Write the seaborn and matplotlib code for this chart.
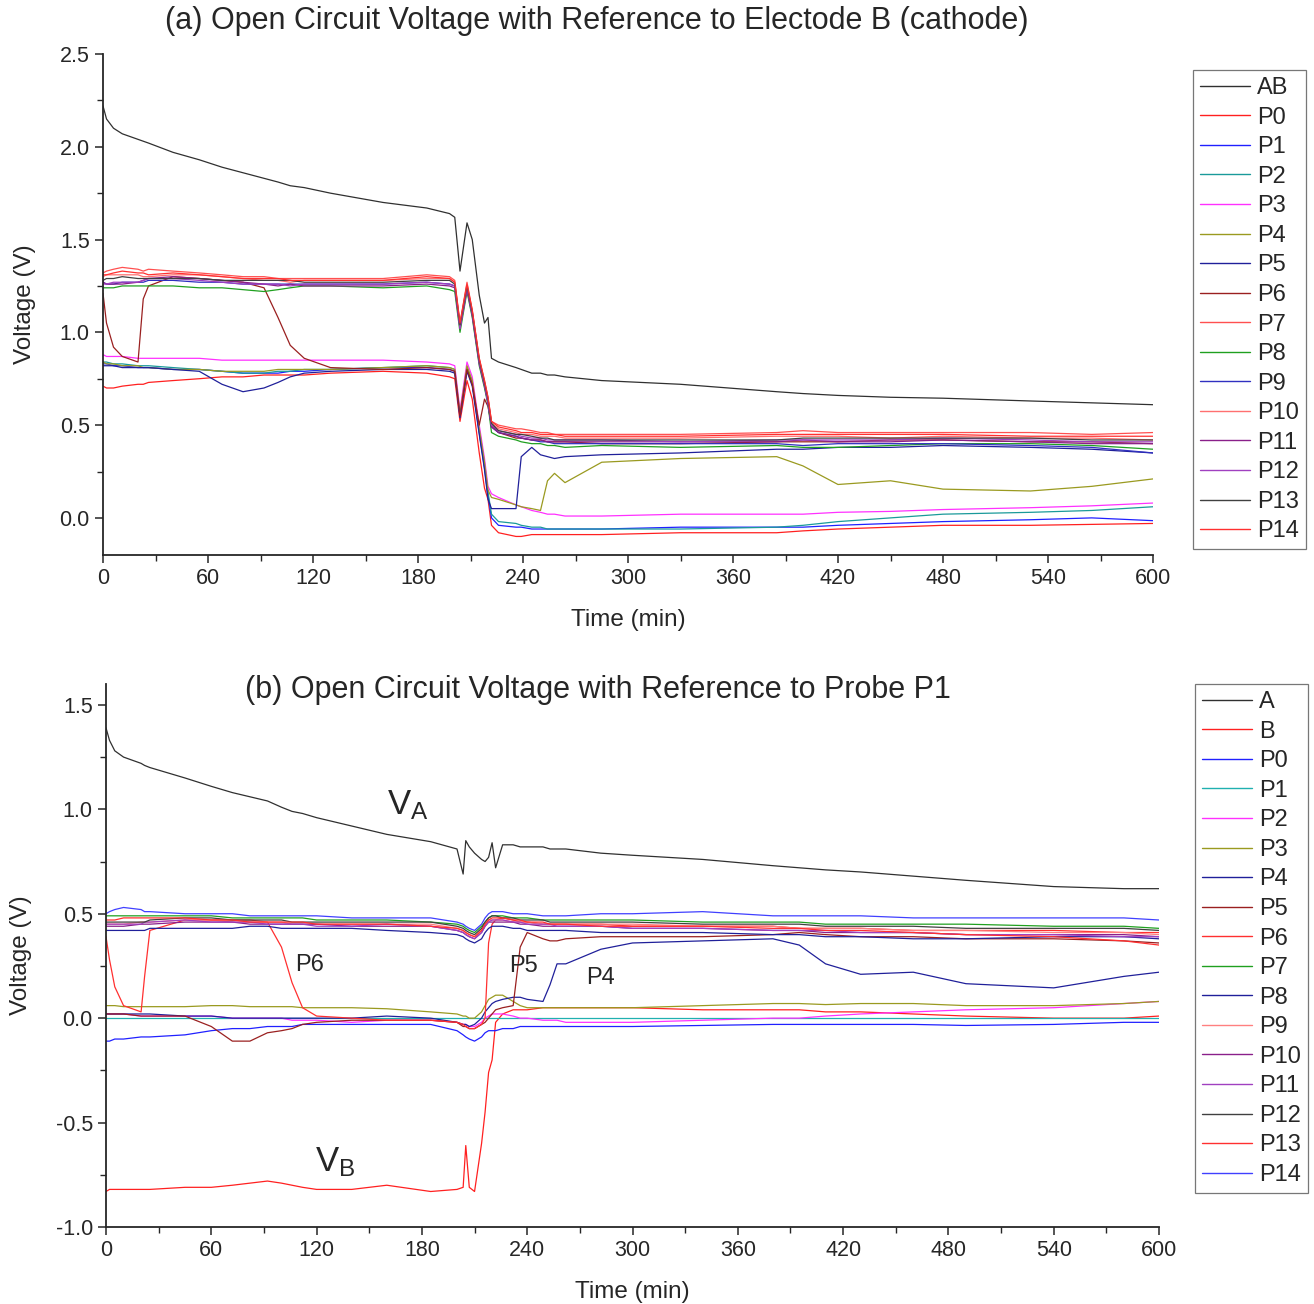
import numpy as np
import pandas as pd
import matplotlib
matplotlib.use("Agg")
import matplotlib.pyplot as plt
import seaborn as sns
from matplotlib.ticker import MultipleLocator

# ---------------- panel (a): reference to electrode B ----------------
TIME_A = [0, 2, 6, 11, 20, 23, 26, 40, 55, 68, 80, 92, 100, 107, 115,
          130, 160, 185, 198, 201, 204, 208, 211, 215, 218, 220, 222, 226, 236, 239,
          245, 250, 254, 258, 264, 285, 330, 385, 400, 420, 450, 480, 530, 565, 600]

A_AB = [2.22, 2.15, 2.10, 2.07, 2.04, 2.03, 2.02, 1.97, 1.93, 1.89, 1.86, 1.83, 1.81, 1.79, 1.78,
        1.75, 1.70, 1.67, 1.64, 1.62, 1.33, 1.59, 1.50, 1.20, 1.05, 1.08, 0.86, 0.84, 0.81, 0.80,
        0.78, 0.78, 0.77, 0.77, 0.76, 0.74, 0.72, 0.68, 0.67, 0.66, 0.65, 0.645, 0.63, 0.62, 0.61]
A_P0 = [0.71, 0.70, 0.70, 0.71, 0.72, 0.72, 0.73, 0.74, 0.75, 0.76, 0.76, 0.77, 0.77, 0.77, 0.77,
        0.78, 0.79, 0.78, 0.76, 0.75, 0.52, 0.74, 0.64, 0.35, 0.16, 0.10, -0.04, -0.08, -0.10, -0.10,
        -0.09, -0.09, -0.09, -0.09, -0.09, -0.09, -0.08, -0.08, -0.07, -0.06, -0.05, -0.04, -0.04, -0.035, -0.03]
A_P1 = [0.83, 0.83, 0.82, 0.82, 0.81, 0.81, 0.81, 0.80, 0.80, 0.79, 0.78, 0.78, 0.78, 0.79, 0.79,
        0.80, 0.81, 0.81, 0.80, 0.79, 0.55, 0.80, 0.72, 0.46, 0.27, 0.12, 0.00, -0.04, -0.05, -0.05,
        -0.06, -0.06, -0.06, -0.06, -0.06, -0.06, -0.05, -0.05, -0.05, -0.04, -0.03, -0.02, -0.01, 0.00, -0.015]
A_P2 = [0.84, 0.84, 0.83, 0.83, 0.82, 0.82, 0.82, 0.81, 0.80, 0.79, 0.78, 0.78, 0.79, 0.79, 0.80,
        0.80, 0.81, 0.82, 0.81, 0.80, 0.56, 0.81, 0.73, 0.47, 0.28, 0.14, 0.02, -0.02, -0.03, -0.04,
        -0.05, -0.05, -0.06, -0.06, -0.06, -0.06, -0.06, -0.05, -0.04, -0.02, 0.00, 0.02, 0.03, 0.04, 0.06]
A_P3 = [0.88, 0.87, 0.87, 0.87, 0.86, 0.86, 0.86, 0.86, 0.86, 0.85, 0.85, 0.85, 0.85, 0.85, 0.85,
        0.85, 0.85, 0.84, 0.83, 0.82, 0.58, 0.84, 0.76, 0.50, 0.32, 0.17, 0.13, 0.11, 0.07, 0.06,
        0.04, 0.03, 0.02, 0.02, 0.01, 0.01, 0.02, 0.02, 0.02, 0.03, 0.035, 0.045, 0.055, 0.065, 0.08]
A_P4 = [0.84, 0.83, 0.83, 0.82, 0.82, 0.81, 0.81, 0.80, 0.80, 0.79, 0.79, 0.79, 0.80, 0.80, 0.80,
        0.80, 0.81, 0.82, 0.81, 0.80, 0.56, 0.82, 0.74, 0.48, 0.30, 0.15, 0.11, 0.10, 0.07, 0.06,
        0.05, 0.04, 0.20, 0.24, 0.19, 0.30, 0.32, 0.33, 0.28, 0.18, 0.20, 0.155, 0.145, 0.17, 0.21]
A_P5 = [0.82, 0.82, 0.82, 0.81, 0.81, 0.81, 0.81, 0.80, 0.79, 0.72, 0.68, 0.70, 0.73, 0.76, 0.78,
        0.79, 0.80, 0.80, 0.79, 0.78, 0.54, 0.79, 0.71, 0.45, 0.26, 0.10, 0.05, 0.05, 0.05, 0.33,
        0.38, 0.34, 0.33, 0.32, 0.33, 0.34, 0.35, 0.37, 0.37, 0.38, 0.38, 0.39, 0.38, 0.37, 0.35]
A_P6 = [1.21, 1.05, 0.92, 0.87, 0.84, 1.18, 1.25, 1.30, 1.29, 1.28, 1.27, 1.24, 1.08, 0.93, 0.86,
        0.81, 0.80, 0.81, 0.80, 0.79, 0.55, 0.80, 0.72, 0.50, 0.64, 0.60, 0.50, 0.46, 0.43, 0.43,
        0.42, 0.42, 0.41, 0.41, 0.41, 0.40, 0.40, 0.41, 0.41, 0.41, 0.42, 0.42, 0.41, 0.41, 0.40]
A_P7 = [1.32, 1.33, 1.34, 1.35, 1.34, 1.33, 1.34, 1.33, 1.32, 1.31, 1.30, 1.30, 1.29, 1.29, 1.29,
        1.29, 1.29, 1.31, 1.30, 1.28, 1.05, 1.27, 1.12, 0.86, 0.74, 0.65, 0.52, 0.50, 0.48, 0.48,
        0.47, 0.46, 0.46, 0.45, 0.45, 0.45, 0.45, 0.46, 0.47, 0.46, 0.46, 0.46, 0.46, 0.45, 0.46]
A_P8 = [1.24, 1.24, 1.24, 1.25, 1.25, 1.25, 1.25, 1.25, 1.24, 1.24, 1.23, 1.22, 1.23, 1.24, 1.25,
        1.25, 1.24, 1.25, 1.23, 1.22, 1.00, 1.22, 1.08, 0.82, 0.70, 0.61, 0.46, 0.44, 0.42, 0.41,
        0.40, 0.40, 0.39, 0.39, 0.38, 0.39, 0.38, 0.39, 0.38, 0.38, 0.39, 0.40, 0.40, 0.39, 0.37]
A_P9 = [1.27, 1.26, 1.26, 1.27, 1.27, 1.27, 1.28, 1.28, 1.27, 1.27, 1.26, 1.26, 1.26, 1.26, 1.26,
        1.26, 1.26, 1.27, 1.26, 1.25, 1.03, 1.24, 1.10, 0.84, 0.72, 0.62, 0.49, 0.46, 0.44, 0.43,
        0.42, 0.41, 0.41, 0.40, 0.40, 0.40, 0.40, 0.40, 0.39, 0.40, 0.40, 0.40, 0.39, 0.38, 0.35]
A_P10 = [1.30, 1.31, 1.31, 1.31, 1.31, 1.30, 1.30, 1.31, 1.31, 1.30, 1.29, 1.28, 1.28, 1.27, 1.28,
         1.28, 1.28, 1.29, 1.29, 1.27, 1.04, 1.26, 1.11, 0.85, 0.73, 0.64, 0.51, 0.48, 0.46, 0.45,
         0.45, 0.44, 0.44, 0.44, 0.43, 0.43, 0.43, 0.44, 0.44, 0.44, 0.43, 0.44, 0.43, 0.43, 0.42]
A_P11 = [1.27, 1.26, 1.26, 1.26, 1.27, 1.28, 1.29, 1.30, 1.29, 1.28, 1.27, 1.26, 1.25, 1.26, 1.25,
         1.25, 1.25, 1.26, 1.25, 1.24, 1.02, 1.23, 1.09, 0.83, 0.71, 0.62, 0.49, 0.46, 0.44, 0.43,
         0.42, 0.42, 0.41, 0.41, 0.41, 0.41, 0.41, 0.41, 0.42, 0.41, 0.41, 0.42, 0.41, 0.40, 0.40]
A_P12 = [1.26, 1.26, 1.27, 1.27, 1.27, 1.28, 1.29, 1.29, 1.28, 1.27, 1.26, 1.26, 1.26, 1.25, 1.26,
         1.26, 1.26, 1.27, 1.26, 1.25, 1.02, 1.24, 1.10, 0.84, 0.72, 0.62, 0.50, 0.47, 0.45, 0.44,
         0.43, 0.43, 0.42, 0.42, 0.42, 0.42, 0.41, 0.42, 0.42, 0.42, 0.42, 0.43, 0.42, 0.41, 0.41]
A_P13 = [1.28, 1.29, 1.29, 1.30, 1.29, 1.29, 1.29, 1.29, 1.29, 1.28, 1.28, 1.28, 1.28, 1.28, 1.27,
         1.27, 1.27, 1.28, 1.28, 1.26, 1.04, 1.25, 1.11, 0.85, 0.73, 0.64, 0.51, 0.47, 0.45, 0.45,
         0.44, 0.43, 0.43, 0.42, 0.42, 0.42, 0.42, 0.42, 0.43, 0.43, 0.43, 0.43, 0.43, 0.42, 0.42]
A_P14 = [1.31, 1.31, 1.32, 1.33, 1.32, 1.32, 1.31, 1.32, 1.31, 1.30, 1.29, 1.29, 1.29, 1.28, 1.28,
         1.28, 1.28, 1.30, 1.29, 1.27, 1.05, 1.26, 1.12, 0.86, 0.74, 0.65, 0.52, 0.49, 0.47, 0.46,
         0.46, 0.45, 0.45, 0.45, 0.44, 0.44, 0.44, 0.45, 0.45, 0.45, 0.45, 0.45, 0.44, 0.44, 0.44]

NAMES_A = ["AB"] + [f"P{i}" for i in range(15)]
SERIES_A = [A_AB, A_P0, A_P1, A_P2, A_P3, A_P4, A_P5, A_P6, A_P7, A_P8, A_P9,
            A_P10, A_P11, A_P12, A_P13, A_P14]
COLORS_A = ["#303030", "#ff2020", "#2020ff", "#1a9a9a", "#ff30ff", "#9a9a20", "#20209a",
            "#9a2020", "#ff5050", "#20a020", "#3030c0", "#ff7070", "#8a208a", "#a040c0",
            "#404040", "#ff3030"]

# ---------------- panel (b): reference to probe P1 ----------------
TIME_B = [0, 2, 5, 10, 20, 22, 25, 45, 60, 72, 82, 92, 100, 106, 112,
          120, 140, 160, 185, 200, 203.5, 205, 207, 210, 214, 216, 218, 220, 222, 226,
          232, 236, 240, 249, 253, 257, 262, 282, 300, 340, 380, 395, 410, 430, 460,
          490, 540, 580, 600]

B_A = [1.39, 1.33, 1.28, 1.25, 1.22, 1.21, 1.20, 1.15, 1.11, 1.08, 1.06, 1.04, 1.01, 0.99, 0.98,
       0.96, 0.92, 0.88, 0.845, 0.81, 0.69, 0.85, 0.82, 0.79, 0.76, 0.75, 0.77, 0.84, 0.72, 0.83,
       0.83, 0.82, 0.82, 0.82, 0.81, 0.81, 0.81, 0.79, 0.78, 0.76, 0.73, 0.72, 0.71, 0.70, 0.68,
       0.66, 0.63, 0.62, 0.62]
B_B = [-0.83, -0.82, -0.82, -0.82, -0.82, -0.82, -0.82, -0.81, -0.81, -0.80, -0.79, -0.78, -0.79, -0.80, -0.81,
       -0.82, -0.82, -0.80, -0.83, -0.82, -0.81, -0.61, -0.81, -0.83, -0.60, -0.45, -0.26, -0.20, -0.02, 0.02,
       0.04, 0.04, 0.04, 0.05, 0.05, 0.05, 0.05, 0.05, 0.05, 0.04, 0.04, 0.04, 0.03, 0.03, 0.02,
       0.01, 0.00, 0.00, 0.01]
B_P0 = [-0.11, -0.11, -0.10, -0.10, -0.09, -0.09, -0.09, -0.08, -0.06, -0.05, -0.05, -0.04, -0.04, -0.04, -0.03,
        -0.03, -0.03, -0.03, -0.03, -0.06, -0.08, -0.09, -0.10, -0.11, -0.09, -0.07, -0.06, -0.06, -0.06, -0.05,
        -0.05, -0.04, -0.04, -0.04, -0.04, -0.04, -0.04, -0.04, -0.04, -0.035, -0.03, -0.03, -0.03, -0.03, -0.03,
        -0.035, -0.03, -0.02, -0.02]
B_P1 = [0.0, 0.0, 0.0, 0.0, 0.0, 0.0, 0.0, 0.0, 0.0, 0.0, 0.0, 0.0, 0.0, 0.0, 0.0,
        0.0, 0.0, 0.0, 0.0, 0.0, 0.0, 0.0, 0.0, 0.0, 0.0, 0.0, 0.0, 0.0, 0.0, 0.0,
        0.0, 0.0, 0.0, 0.0, 0.0, 0.0, 0.0, 0.0, 0.0, 0.0, 0.0, 0.0, 0.0, 0.0, 0.0,
        0.0, 0.0, 0.0, 0.0]
B_P2 = [0.02, 0.02, 0.02, 0.02, 0.01, 0.01, 0.01, 0.01, 0.01, 0.00, 0.00, 0.00, 0.00, -0.01, -0.01,
        -0.01, -0.02, -0.01, -0.01, -0.02, -0.03, -0.03, -0.04, -0.04, -0.02, 0.00, 0.01, 0.02, 0.02, 0.02,
        0.01, 0.00, 0.00, -0.01, -0.01, -0.01, -0.02, -0.02, -0.02, -0.01, 0.00, 0.00, 0.01, 0.02, 0.03,
        0.04, 0.05, 0.07, 0.08]
B_P3 = [0.06, 0.06, 0.06, 0.055, 0.055, 0.055, 0.055, 0.055, 0.06, 0.06, 0.055, 0.055, 0.055, 0.055, 0.05,
        0.05, 0.05, 0.045, 0.03, 0.02, 0.01, 0.01, 0.00, 0.00, 0.03, 0.06, 0.09, 0.10, 0.11, 0.11,
        0.08, 0.06, 0.05, 0.05, 0.05, 0.05, 0.05, 0.05, 0.05, 0.06, 0.07, 0.07, 0.065, 0.07, 0.07,
        0.06, 0.06, 0.07, 0.08]
B_P4 = [0.02, 0.02, 0.02, 0.02, 0.02, 0.02, 0.02, 0.01, 0.01, 0.00, 0.00, 0.00, 0.00, 0.00, 0.00,
        0.00, 0.00, 0.01, 0.00, -0.02, -0.03, -0.03, -0.04, -0.03, 0.00, 0.03, 0.05, 0.07, 0.08, 0.09,
        0.10, 0.10, 0.09, 0.08, 0.16, 0.26, 0.26, 0.33, 0.36, 0.37, 0.38, 0.35, 0.26, 0.21, 0.22,
        0.165, 0.145, 0.20, 0.22]
B_P5 = [0.02, 0.02, 0.02, 0.02, 0.01, 0.01, 0.01, 0.01, -0.04, -0.11, -0.11, -0.07, -0.06, -0.05, -0.03,
        -0.02, -0.01, -0.01, -0.01, -0.02, -0.04, -0.04, -0.05, -0.05, -0.03, -0.02, 0.00, 0.02, 0.04, 0.05,
        0.06, 0.34, 0.41, 0.38, 0.37, 0.37, 0.38, 0.39, 0.39, 0.39, 0.40, 0.41, 0.40, 0.39, 0.39,
        0.38, 0.38, 0.37, 0.36]
B_P6 = [0.39, 0.28, 0.15, 0.06, 0.03, 0.20, 0.42, 0.47, 0.47, 0.47, 0.47, 0.46, 0.34, 0.17, 0.05,
        0.01, 0.00, -0.01, -0.01, -0.02, -0.03, -0.04, -0.05, -0.05, -0.03, 0.00, 0.36, 0.45, 0.47, 0.48,
        0.47, 0.46, 0.46, 0.45, 0.45, 0.45, 0.45, 0.45, 0.44, 0.44, 0.44, 0.43, 0.43, 0.43, 0.42,
        0.42, 0.42, 0.41, 0.41]
B_P7 = [0.49, 0.49, 0.49, 0.49, 0.49, 0.49, 0.49, 0.49, 0.49, 0.48, 0.48, 0.48, 0.48, 0.48, 0.48,
        0.47, 0.47, 0.47, 0.46, 0.45, 0.44, 0.43, 0.42, 0.41, 0.44, 0.46, 0.48, 0.49, 0.49, 0.49,
        0.48, 0.48, 0.48, 0.47, 0.47, 0.47, 0.47, 0.47, 0.47, 0.46, 0.46, 0.46, 0.45, 0.45, 0.45,
        0.45, 0.44, 0.44, 0.43]
B_P8 = [0.42, 0.42, 0.42, 0.42, 0.42, 0.42, 0.43, 0.43, 0.43, 0.43, 0.44, 0.44, 0.43, 0.43, 0.43,
        0.43, 0.43, 0.42, 0.41, 0.40, 0.39, 0.38, 0.37, 0.36, 0.38, 0.41, 0.43, 0.44, 0.44, 0.44,
        0.43, 0.43, 0.42, 0.42, 0.42, 0.42, 0.42, 0.41, 0.41, 0.41, 0.40, 0.40, 0.39, 0.39, 0.38,
        0.38, 0.39, 0.39, 0.38]
B_P9 = [0.45, 0.45, 0.45, 0.45, 0.46, 0.46, 0.46, 0.47, 0.47, 0.46, 0.46, 0.46, 0.46, 0.45, 0.45,
        0.45, 0.45, 0.45, 0.45, 0.43, 0.42, 0.41, 0.40, 0.39, 0.42, 0.45, 0.47, 0.47, 0.47, 0.47,
        0.46, 0.46, 0.46, 0.45, 0.45, 0.45, 0.45, 0.45, 0.45, 0.44, 0.44, 0.43, 0.43, 0.43, 0.42,
        0.42, 0.41, 0.41, 0.40]
B_P10 = [0.44, 0.44, 0.44, 0.44, 0.45, 0.45, 0.45, 0.46, 0.46, 0.46, 0.45, 0.45, 0.45, 0.45, 0.45,
         0.45, 0.44, 0.44, 0.44, 0.42, 0.41, 0.40, 0.39, 0.38, 0.41, 0.44, 0.46, 0.46, 0.46, 0.46,
         0.46, 0.45, 0.45, 0.44, 0.44, 0.44, 0.44, 0.44, 0.43, 0.43, 0.42, 0.42, 0.41, 0.41, 0.41,
         0.40, 0.40, 0.40, 0.39]
B_P11 = [0.45, 0.45, 0.45, 0.45, 0.45, 0.46, 0.46, 0.47, 0.46, 0.46, 0.46, 0.45, 0.45, 0.45, 0.45,
         0.44, 0.44, 0.45, 0.44, 0.42, 0.41, 0.40, 0.39, 0.38, 0.41, 0.44, 0.46, 0.47, 0.47, 0.47,
         0.46, 0.46, 0.45, 0.45, 0.45, 0.44, 0.44, 0.44, 0.43, 0.43, 0.42, 0.42, 0.42, 0.41, 0.41,
         0.40, 0.40, 0.39, 0.39]
B_P12 = [0.46, 0.46, 0.46, 0.46, 0.46, 0.46, 0.47, 0.48, 0.48, 0.47, 0.47, 0.47, 0.47, 0.46, 0.46,
         0.46, 0.46, 0.46, 0.46, 0.44, 0.43, 0.42, 0.41, 0.40, 0.43, 0.46, 0.48, 0.49, 0.49, 0.48,
         0.48, 0.47, 0.47, 0.47, 0.46, 0.46, 0.46, 0.46, 0.46, 0.45, 0.45, 0.45, 0.44, 0.44, 0.44,
         0.43, 0.43, 0.43, 0.42]
B_P13 = [0.47, 0.47, 0.47, 0.48, 0.48, 0.48, 0.48, 0.48, 0.47, 0.47, 0.46, 0.46, 0.46, 0.46, 0.46,
         0.45, 0.45, 0.45, 0.44, 0.43, 0.42, 0.41, 0.40, 0.39, 0.42, 0.45, 0.47, 0.48, 0.48, 0.48,
         0.47, 0.47, 0.46, 0.46, 0.45, 0.45, 0.45, 0.44, 0.44, 0.44, 0.43, 0.43, 0.42, 0.42, 0.41,
         0.40, 0.39, 0.37, 0.35]
B_P14 = [0.50, 0.51, 0.52, 0.53, 0.52, 0.51, 0.51, 0.50, 0.50, 0.50, 0.49, 0.49, 0.49, 0.49, 0.49,
         0.49, 0.48, 0.48, 0.48, 0.46, 0.45, 0.44, 0.43, 0.42, 0.45, 0.48, 0.50, 0.51, 0.51, 0.51,
         0.50, 0.50, 0.50, 0.49, 0.49, 0.49, 0.49, 0.50, 0.50, 0.51, 0.49, 0.49, 0.49, 0.49, 0.48,
         0.48, 0.48, 0.48, 0.47]

NAMES_B = ["A", "B"] + [f"P{i}" for i in range(15)]
SERIES_B = [B_A, B_B, B_P0, B_P1, B_P2, B_P3, B_P4, B_P5, B_P6, B_P7, B_P8, B_P9,
            B_P10, B_P11, B_P12, B_P13, B_P14]
COLORS_B = ["#303030", "#ff2020", "#2020ff", "#20b0b0", "#ff30ff", "#9a9a20", "#20209a",
            "#9a2020", "#ff3030", "#20a020", "#20209a", "#ff8080", "#8a208a", "#a040c0",
            "#404040", "#ff3030", "#4040ff"]

TITLE_A = "(a) Open Circuit Voltage with Reference to Electode B (cathode)"
TITLE_B = "(b) Open Circuit Voltage with Reference to Probe P1"

# ---------------- drawing ----------------
sns.set_theme(style="ticks")
plt.rcParams["font.family"] = ["Liberation Sans", "DejaVu Sans"]
plt.rcParams["mathtext.default"] = "regular"

W, H = 1314, 1304
fig = plt.figure(figsize=(W / 100, H / 100), dpi=100)


def frac_axes(x0, y0, x1, y1):
    return fig.add_axes([x0 / W, 1 - y1 / H, (x1 - x0) / W, (y1 - y0) / H])


def draw_panel(ax, times, names, series, colors, ylim, legend_xy):
    for n, s in zip(names, series):
        assert len(s) == len(times), n
    df = pd.DataFrame({
        "Time": np.tile(np.asarray(times, float), len(names)),
        "Series": np.repeat(names, len(times)),
        "Voltage": np.concatenate([np.asarray(s, float) for s in series]),
    })
    sns.lineplot(data=df, x="Time", y="Voltage", hue="Series", hue_order=names,
                 palette=dict(zip(names, colors)), estimator=None, linewidth=0.9,
                 ax=ax, legend=True)
    handles, labels = ax.get_legend_handles_labels()
    ax.get_legend().remove()
    leg = ax.legend(handles, labels, loc="upper left", bbox_to_anchor=legend_xy,
                    bbox_transform=fig.transFigure, frameon=True, fancybox=False,
                    edgecolor="#555555", fontsize=17, handlelength=2.1,
                    labelspacing=0.32, handletextpad=0.3, borderpad=0.3,
                    borderaxespad=0.0)
    leg.get_frame().set_linewidth(0.9)
    for h in leg.get_lines():
        h.set_linewidth(1.0)
    ax.set_xlim(0, 600)
    ax.set_ylim(*ylim)
    ax.xaxis.set_major_locator(MultipleLocator(60))
    ax.xaxis.set_minor_locator(MultipleLocator(30))
    ax.yaxis.set_major_locator(MultipleLocator(0.5))
    ax.yaxis.set_minor_locator(MultipleLocator(0.25))
    ax.yaxis.set_major_formatter(matplotlib.ticker.FormatStrFormatter("%.1f"))
    ax.tick_params(which="major", direction="out", length=6, width=1.1, labelsize=15.5)
    ax.tick_params(which="minor", direction="out", length=4, width=1.0)
    for side in ("top", "right"):
        ax.spines[side].set_visible(False)
    for side in ("left", "bottom"):
        ax.spines[side].set_linewidth(1.3)
    ax.set_xlabel("Time (min)", fontsize=17.5, labelpad=14)
    ax.set_ylabel("Voltage (V)", fontsize=17.5, labelpad=17)


ax1 = frac_axes(103, 54, 1153, 555)
draw_panel(ax1, TIME_A, NAMES_A, SERIES_A, COLORS_A, (-0.2, 2.5), (1193 / W, 1 - 70 / H))
fig.text(597 / W, 1 - 21 / H, TITLE_A, ha="center", va="center", fontsize=22)

ax2 = frac_axes(106, 684, 1159, 1227)
draw_panel(ax2, TIME_B, NAMES_B, SERIES_B, COLORS_B, (-1.0, 1.6), (1195 / W, 1 - 684 / H))
fig.text(598 / W, 1 - 690 / H, TITLE_B, ha="center", va="center", fontsize=22)

ax2.text(172, 1.02, "$V_A$", fontsize=25, ha="center", va="center")
ax2.text(130.5, -0.69, "$V_B$", fontsize=25, ha="center", va="center")
ax2.text(116, 0.255, "P6", fontsize=17, ha="center", va="center")
ax2.text(238, 0.25, "P5", fontsize=17, ha="center", va="center")
ax2.text(281.5, 0.19, "P4", fontsize=17, ha="center", va="center")

fig.savefig("out.png", dpi=100, facecolor="white")
